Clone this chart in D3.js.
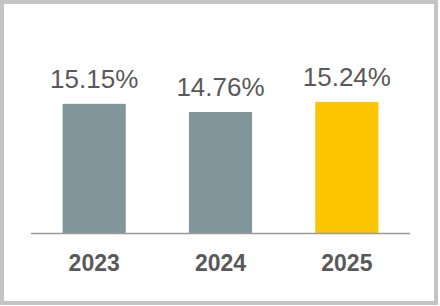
<!DOCTYPE html>
<html>
<head>
<meta charset="utf-8">
<script src="https://cdn.jsdelivr.net/npm/d3@7"></script>
<style>
  body { margin: 0; background: #fff; }
  svg { display: block; font-family: "Liberation Sans", Arial, sans-serif; }
</style>
</head>
<body>
<svg id="chart" width="440" height="306"></svg>
<script>
// Data
const years = ['2023', '2024', '2025'];
const values = [15.15, 14.76, 15.24];
const barColors = ['#80969a', '#80969a', '#fcc600'];

const svg = d3.select('#chart');

// Outer frame
svg.append('rect')
  .attr('x', 2).attr('y', 2)
  .attr('width', 434).attr('height', 301)
  .attr('fill', '#fff')
  .attr('stroke', '#c4c4c4')
  .attr('stroke-width', 4);

const x = d3.scaleBand()
  .domain(years)
  .range([31, 410])
  .paddingInner(0.5)
  .paddingOuter(0.25);

// value axis does not start at zero in the original
const y = d3.scaleLinear()
  .domain([9, 17])
  .range([233, 65]);

const g = svg.append('g');

g.selectAll('rect.bar')
  .data(values)
  .enter().append('rect')
  .attr('class', 'bar')
  .attr('x', (d, i) => x(years[i]))
  .attr('width', x.bandwidth())
  .attr('y', d => y(d))
  .attr('height', d => y(9) - y(d))
  .attr('fill', (d, i) => barColors[i]);

// Value labels
g.selectAll('text.val')
  .data(values)
  .enter().append('text')
  .attr('class', 'val')
  .attr('x', (d, i) => x(years[i]) + x.bandwidth() / 2)
  .attr('y', d => y(d) - 16)
  .attr('text-anchor', 'middle')
  .attr('font-size', '26px')
  .attr('fill', '#595959')
  .text(d => d.toFixed(2) + '%');

// Baseline
g.append('line')
  .attr('x1', 31).attr('x2', 410)
  .attr('y1', y(9) + 0.5).attr('y2', y(9) + 0.5)
  .attr('stroke', '#9a9a9a')
  .attr('stroke-width', 1.5);

// Category labels
const xAxis = d3.axisBottom(x).tickSize(0).tickPadding(0);
const ax = g.append('g')
  .attr('transform', `translate(0,${y(9)})`)
  .call(xAxis);
ax.select('.domain').remove();
ax.selectAll('text')
  .attr('dy', null)
  .attr('y', 38)
  .attr('font-size', '23px')
  .attr('font-weight', 'bold')
  .attr('font-family', '"Liberation Sans", Arial, sans-serif')
  .attr('fill', '#595959');
</script>
</body>
</html>
